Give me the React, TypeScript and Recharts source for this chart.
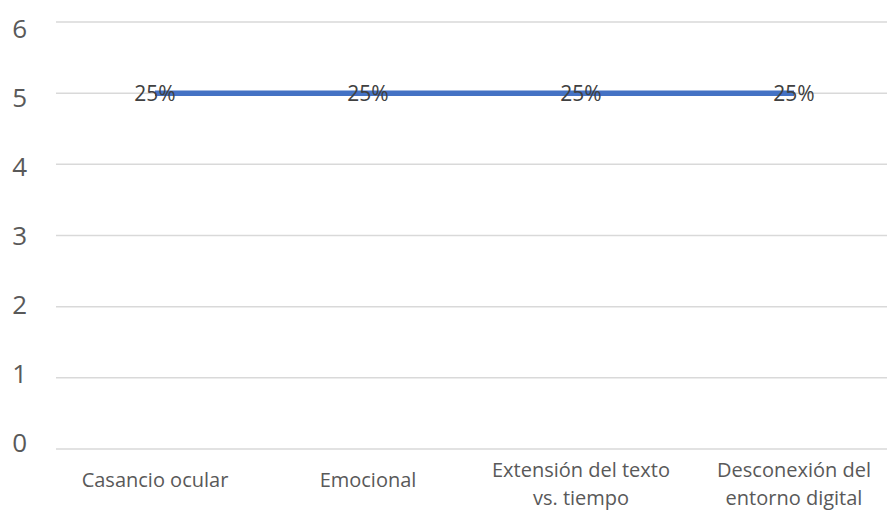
import React from 'react';
import { LineChart, Line, XAxis, YAxis, CartesianGrid, LabelList } from 'recharts';

const categories = [
  'Casancio ocular',
  'Emocional',
  'Extensión del texto vs. tiempo',
  'Desconexión del entorno digital',
];
const values = [5, 5, 5, 5];
const valueLabels = ['25%', '25%', '25%', '25%'];
const yTicks = [0, 1, 2, 3, 4, 5, 6];

const data = categories.map((name, i) => ({ name, value: values[i], label: valueLabels[i] }));

const FONT = '"Open Sans", sans-serif';

// break long category names into lines of at most ~20 chars
const wrap = (s: string, max = 20) => {
  const lines: string[] = [];
  let cur = '';
  s.split(' ').forEach((w) => {
    const next = cur ? cur + ' ' + w : w;
    if (next.length > max && cur) {
      lines.push(cur);
      cur = w;
    } else {
      cur = next;
    }
  });
  if (cur) lines.push(cur);
  return lines;
};

const CategoryTick = (props: any) => {
  const { x, y, payload } = props;
  const lines = wrap(payload.value);
  const first = y + 38 - (lines.length - 1) * 10;
  return (
    <text x={x} y={first} textAnchor="middle" fill="#595959" fontSize={20} fontFamily={FONT}>
      {lines.map((l, i) => (
        <tspan key={i} x={x} y={first + i * 28}>
          {l}
        </tspan>
      ))}
    </text>
  );
};

// value labels sit slightly tighter than the gridlines in the original
const ValueTick = (props: any) => {
  const { x, y, payload } = props;
  const yy = y + (235 - y) * 0.03;
  return (
    <text x={x} y={yy} dy="0.355em" textAnchor="end" fill="#595959" fontSize={26} fontFamily={FONT}>
      {payload.value}
    </text>
  );
};

const App = () => {
  return (
    <div style={{ position: 'absolute', left: 0, top: 0, width: 887, height: 521, background: '#fff', overflow: 'hidden' }}>
      <LineChart width={887} height={521} data={data} margin={{ top: 22, right: 0, left: 0, bottom: 0 }}>
        <CartesianGrid vertical={false} stroke="#d9d9d9" strokeWidth={1.5} />
        <XAxis
          dataKey="name"
          scale="point"
          padding={{ left: 99, right: 93 }}
          axisLine={false}
          tickLine={false}
          tickSize={0}
          tickMargin={0}
          height={72}
          interval={0}
          tick={<CategoryTick />}
        />
        <YAxis
          domain={[0, 6]}
          ticks={yTicks}
          width={56}
          axisLine={false}
          tickLine={false}
          tickSize={0}
          tickMargin={29}
          tick={<ValueTick />}
        />
        <Line
          dataKey="value"
          stroke="#4472C4"
          strokeWidth={5.5}
          dot={false}
          activeDot={false}
          isAnimationActive={false}
        >
          <LabelList dataKey="label" position="center" fill="#404040" fontSize={21} fontFamily={FONT} />
        </Line>
      </LineChart>
    </div>
  );
};

export default App;
